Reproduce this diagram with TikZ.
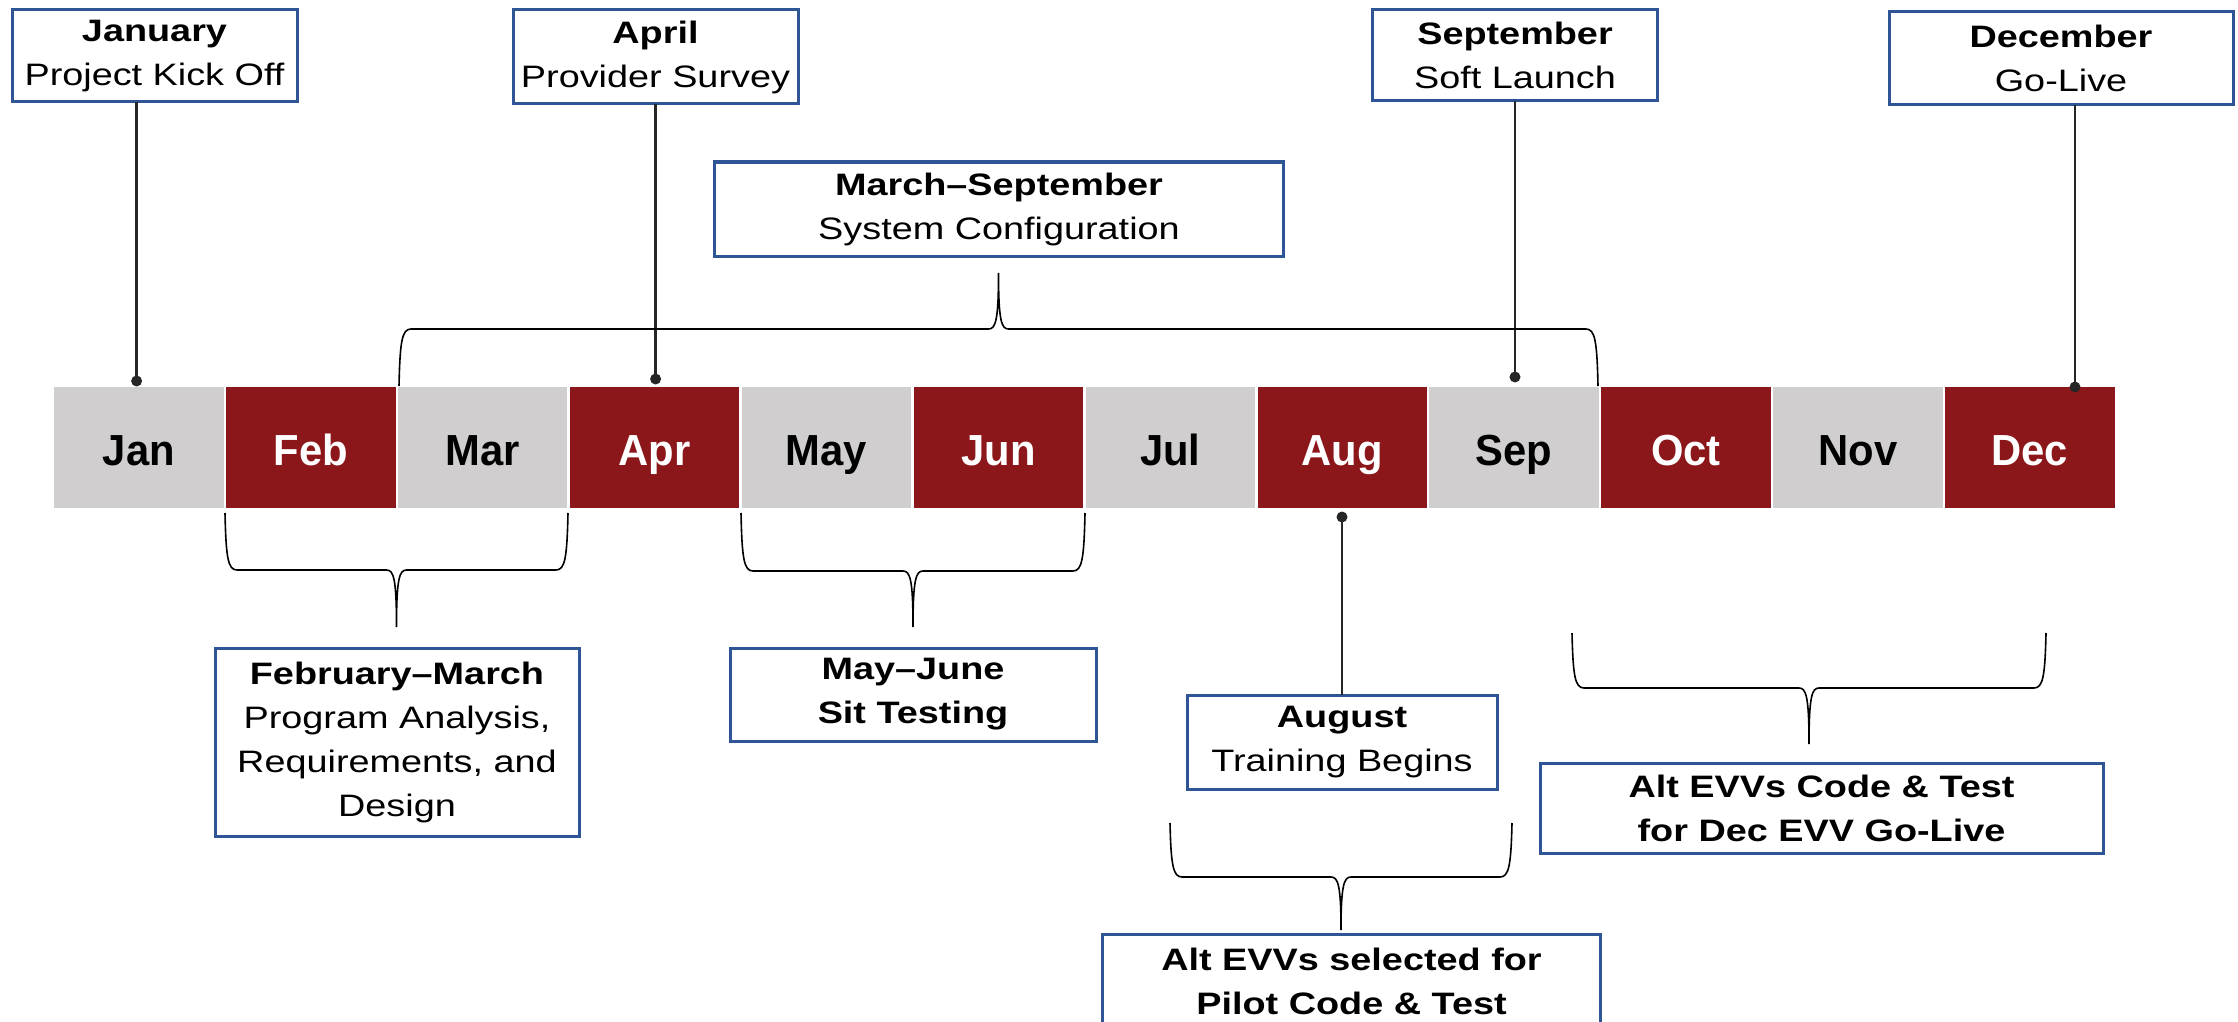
\documentclass[tikz,border=0pt]{standalone}
\usepackage{fontspec}
\newfontfamily\boxfont{Liberation Sans}[FakeStretch=1.22]
\newfontfamily\monthfont{Liberation Sans}[FakeStretch=0.96]
\definecolor{boxblue}{HTML}{2F5597}
\definecolor{mred}{HTML}{8B171A}
\definecolor{mgrey}{HTML}{D0CECE}
\definecolor{connc}{HTML}{262626}
\tikzset{
  infobox/.style={draw=boxblue, line width=3pt, fill=white, align=center, inner sep=0pt, outer sep=0pt,
    font=\boxfont\fontsize{31pt}{44pt}\selectfont},
  cell/.style={draw=white, line width=2.5pt, minimum width=171.9pt, minimum height=123pt, inner sep=0pt,
    text height=35pt, text depth=0pt,
    font=\monthfont\bfseries\fontsize{43.5pt}{50pt}\selectfont},
  mg/.style={cell, fill=mgrey, text=black},
  mr/.style={cell, fill=mred, text=white},
  conn/.style={draw=connc, line width=2.6pt},
  dotc/.style={fill=connc},
  bracel/.style={draw=black, line width=1.6pt}
}
\newcommand\tlbrace[6]{%
  \draw[bracel] (#1,#3) .. controls ({#1+1},{#4-12*(#6)}) and ({#1+3},#4) .. ({#1+12},#4)
    -- ({(#1+#2)/2-10},#4) .. controls ({(#1+#2)/2-3},#4) and ({(#1+#2)/2},{#4+8*(#6)}) .. ({(#1+#2)/2},#5)
    .. controls ({(#1+#2)/2},{#4+8*(#6)}) and ({(#1+#2)/2+3},#4) .. ({(#1+#2)/2+10},#4)
    -- ({#2-12},#4) .. controls ({#2-3},#4) and ({#2-1},{#4-12*(#6)}) .. (#2,#3);}
\begin{document}
\begin{tikzpicture}[x=1pt,y=-1pt]
\useasboundingbox (0,0) rectangle (2238,1022);
\clip (0,0) rectangle (2238,1022);
\fill[white] (0,0) rectangle (2238,1022);

% month bar
\foreach \m/\s [count=\i] in {Jan/mg,Feb/mr,Mar/mg,Apr/mr,May/mg,Jun/mr,Jul/mg,Aug/mr,Sep/mg,Oct/mr,Nov/mg,Dec/mr}{
  \node[\s] (m\i) at ({53+171.9*(\i-0.5)},447.5) {\m};
}

% top boxes
\node[infobox, minimum width=285pt, minimum height=92pt] (jan) at (154.5,56) {\textbf{January}\\Project Kick Off};
\node[infobox, minimum width=285pt, minimum height=94pt] (apr) at (655.5,57) {\textbf{April}\\Provider Survey};
\node[infobox, minimum width=285pt, minimum height=91pt] (sep) at (1515,55.5) {\textbf{September}\\Soft Launch};
\node[infobox, minimum width=344pt, minimum height=93pt] (dec) at (2061,58.5) {\textbf{December}\\Go-Live};
\node[infobox, minimum width=569pt, minimum height=94pt] (marsep) at (999,209) {\textbf{March–September}\\System Configuration};

% bottom boxes
\node[infobox, minimum width=364pt, minimum height=188pt] (febmar) at (397,742) {\textbf{February–March}\\Program Analysis,\\Requirements, and\\Design};
\node[infobox, minimum width=366pt, minimum height=93pt] (mayjun) at (913,694.5) {\textbf{May–June}\\\textbf{Sit Testing}};
\node[infobox, minimum width=310pt, minimum height=94pt] (aug) at (1342,742) {\textbf{August}\\Training Begins};
\node[infobox, minimum width=498pt, minimum height=94pt] (altsel) at (1351.5,981) {\textbf{Alt EVVs selected for}\\\textbf{Pilot Code \& Test}};
\node[infobox, minimum width=563pt, minimum height=90pt] (altcode) at (1821.5,808) {\textbf{Alt EVVs Code \& Test}\\\textbf{for Dec EVV Go-Live}};

% milestone markers
\coordinate (dJan) at (136.6,381);
\coordinate (dApr) at (655.6,379);
\coordinate (dSep) at (1515,377);
\coordinate (dDec) at (2075,387);
\coordinate (dAug) at (1342,517);
\draw[conn] (jan.south -| dJan) -- (dJan);
\draw[conn] (apr.south -| dApr) -- (dApr);
\draw[conn] (sep.south -| dSep) -- (dSep);
\draw[conn] (dec.south -| dDec) -- (dDec);
\draw[conn] (dAug) -- (aug.north -| dAug);
\foreach \d in {dJan,dApr,dSep,dDec,dAug}{\fill[dotc] (\d) circle (5.5pt);}

% braces
\tlbrace{399}{1598}{386}{329}{273}{-1}
\tlbrace{225}{568}{513}{570}{627}{1}
\tlbrace{741}{1085}{513}{571}{627}{1}
\tlbrace{1170}{1512}{823}{877}{930}{1}
\tlbrace{1572}{2046}{633}{688}{744}{1}
\end{tikzpicture}
\end{document}
